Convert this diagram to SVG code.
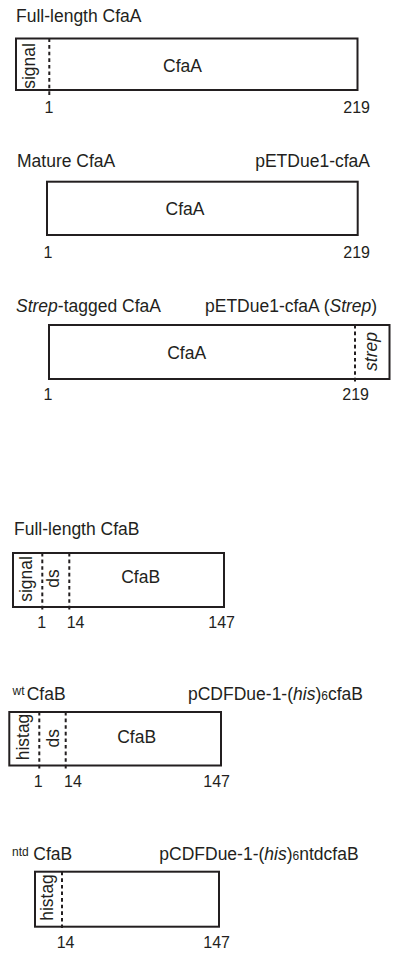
<svg xmlns="http://www.w3.org/2000/svg" width="400" height="961" viewBox="0 0 400 961">
<style>
text{font-family:"Liberation Sans",Arial,sans-serif;fill:#231f20;font-size:17.5px}
.num{font-size:16px}
.sup{font-size:12px}
.sub6{font-size:12px}
.box{fill:#fff;stroke:#231f20;stroke-width:2}
.dash{stroke:#231f20;stroke-width:2;stroke-dasharray:3.6 3;fill:none}
.mid{text-anchor:middle}
.end{text-anchor:end}
.it{font-style:italic}
</style>
<rect width="400" height="961" fill="#fff"/>

<g id="full-length-cfaa">
<text x="16" y="21.5">Full-length CfaA</text>
<rect class="box" x="16" y="38.5" width="341.5" height="51.5"/>
<line class="dash" x1="49.3" y1="38.5" x2="49.3" y2="95"/>
<text class="mid" transform="translate(35,66) rotate(-90)">signal</text>
<text class="mid" x="182.5" y="71.5">CfaA</text>
<text class="num mid" x="49" y="113">1</text>
<text class="num end" x="370" y="113">219</text>
</g>

<g id="mature-cfaa">
<text x="17" y="166.5">Mature CfaA</text>
<text class="end" x="370" y="166.5">pETDue1-cfaA</text>
<rect class="box" x="47" y="181.7" width="310.7" height="53.3"/>
<text class="mid" x="185" y="215">CfaA</text>
<text class="num mid" x="48" y="258">1</text>
<text class="num end" x="370" y="258">219</text>
</g>

<g id="strep-tagged-cfaa">
<text x="16" y="311.5"><tspan class="it">Strep</tspan>-tagged CfaA</text>
<text x="205" y="311.5">pETDue1-cfaA (<tspan class="it">Strep</tspan>)</text>
<rect class="box" x="49" y="325" width="340.5" height="54"/>
<line class="dash" x1="355" y1="325" x2="355" y2="382"/>
<text class="mid it" transform="translate(377,351.5) rotate(-90)">strep</text>
<text class="mid" x="186.7" y="359">CfaA</text>
<text class="num mid" x="48" y="400">1</text>
<text class="num end" x="369" y="400">219</text>
</g>

<g id="full-length-cfab">
<text x="14" y="535">Full-length CfaB</text>
<rect class="box" x="13" y="553" width="211" height="54"/>
<line class="dash" x1="42.3" y1="553" x2="42.3" y2="611"/>
<line class="dash" x1="69.3" y1="553" x2="69.3" y2="611"/>
<text class="mid" transform="translate(31.5,579) rotate(-90)">signal</text>
<text class="mid" transform="translate(59.3,578.5) rotate(-90)">ds</text>
<text class="mid" x="140.7" y="583">CfaB</text>
<text class="num mid" x="41.7" y="628.3">1</text>
<text class="num" x="66.7" y="628.3">14</text>
<text class="num end" x="235" y="628.3">147</text>
</g>

<g id="wt-cfab">
<text class="sup" x="12.5" y="695">wt</text>
<text x="26.7" y="700">CfaB</text>
<text x="188" y="700">pCDFDue-1-(<tspan class="it">his</tspan>)<tspan class="sub6">6</tspan>cfaB</text>
<rect class="box" x="9.3" y="712" width="211.7" height="53.5"/>
<line class="dash" x1="39.3" y1="712" x2="39.3" y2="770"/>
<line class="dash" x1="65.7" y1="712" x2="65.7" y2="770"/>
<text class="mid" transform="translate(29.3,737) rotate(-90)">histag</text>
<text class="mid" transform="translate(59.3,738.3) rotate(-90)">ds</text>
<text class="mid" x="136.7" y="742.7">CfaB</text>
<text class="num mid" x="38.3" y="786.7">1</text>
<text class="num" x="64" y="786.7">14</text>
<text class="num end" x="230" y="786.7">147</text>
</g>

<g id="ntd-cfab">
<text class="sup" x="12" y="856">ntd</text>
<text x="33.3" y="860">CfaB</text>
<text x="159.3" y="860">pCDFDue-1-(<tspan class="it">his</tspan>)<tspan class="sub6">6</tspan>ntdcfaB</text>
<rect class="box" x="35" y="871.7" width="184" height="55"/>
<line class="dash" x1="62" y1="871.7" x2="62" y2="930"/>
<text class="mid" transform="translate(53.3,897.5) rotate(-90)">histag</text>
<text class="num" x="56.7" y="948.3">14</text>
<text class="num end" x="230" y="948.3">147</text>
</g>
</svg>
